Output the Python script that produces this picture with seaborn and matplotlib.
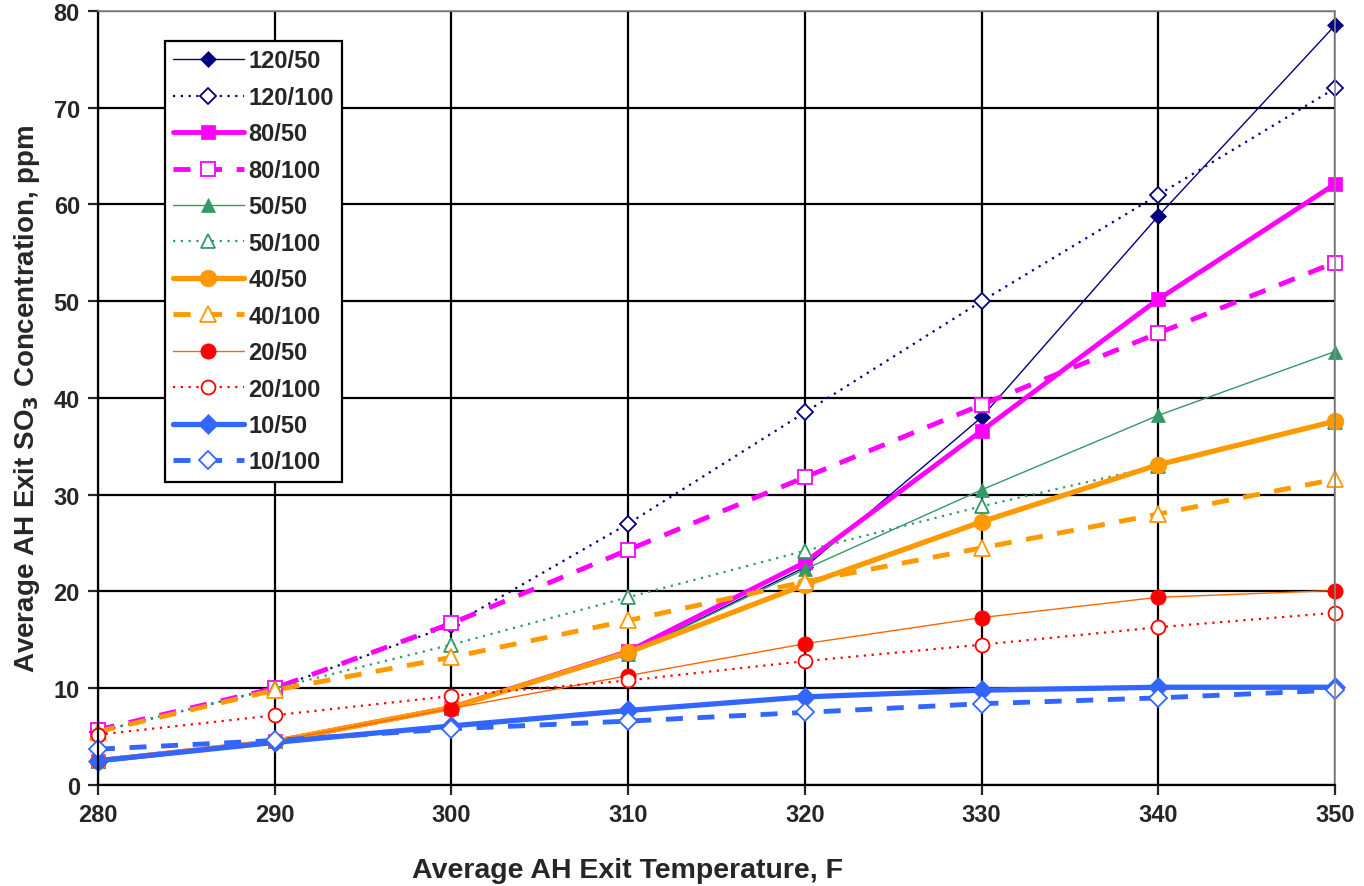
import matplotlib
matplotlib.use("Agg")
import matplotlib.pyplot as plt
import seaborn as sns
import pandas as pd

temps = [280, 290, 300, 310, 320, 330, 340, 350]

s120_50 = [2.5, 4.5, 8.0, 13.5, 22.5, 38.0, 58.8, 78.5]
s120_100 = [5.5, 10.0, 16.5, 27.0, 38.5, 50.0, 61.0, 72.0]
s80_50 = [2.5, 4.5, 8.0, 13.8, 23.0, 36.6, 50.2, 62.1]
s80_100 = [5.7, 10.0, 16.7, 24.3, 31.8, 39.3, 46.7, 54.0]
s50_50 = [2.5, 4.5, 8.0, 13.5, 22.3, 30.5, 38.2, 44.8]
s50_100 = [5.5, 10.0, 14.5, 19.4, 24.2, 28.8, 33.0, 37.5]
s40_50 = [2.5, 4.5, 8.0, 13.7, 20.7, 27.2, 33.1, 37.6]
s40_100 = [5.5, 9.8, 13.2, 17.0, 21.0, 24.5, 28.0, 31.6]
s20_50 = [2.5, 4.5, 7.9, 11.3, 14.6, 17.3, 19.4, 20.1]
s20_100 = [5.2, 7.2, 9.2, 10.8, 12.8, 14.5, 16.3, 17.8]
s10_50 = [2.5, 4.4, 6.1, 7.7, 9.1, 9.8, 10.1, 10.1]
s10_100 = [3.7, 4.6, 5.8, 6.6, 7.5, 8.4, 9.0, 9.8]

labels = ["120/50", "120/100", "80/50", "80/100", "50/50", "50/100",
          "40/50", "40/100", "20/50", "20/100", "10/50", "10/100"]
series = [s120_50, s120_100, s80_50, s80_100, s50_50, s50_100,
          s40_50, s40_100, s20_50, s20_100, s10_50, s10_100]

# style per series: line colour, marker colour, marker, filled, linestyle, width, size
styles = [
    ("#000080", "#000080", "D", True, "-", 1.0, 8),
    ("#000080", "#000080", "D", False, (0, (1, 2.5)), 1.6, 8),
    ("#FF00FF", "#FF00FF", "s", True, "-", 3.5, 10),
    ("#FF00FF", "#FF00FF", "s", False, (0, (3.5, 3)), 3.5, 10),
    ("#339966", "#339966", "^", True, "-", 1.0, 10),
    ("#339966", "#339966", "^", False, (0, (1, 2.5)), 1.6, 10),
    ("#FF9900", "#FF9900", "o", True, "-", 3.8, 12),
    ("#FF9900", "#FF9900", "^", False, (0, (3.5, 3)), 3.5, 11),
    ("#FF6600", "#FF0000", "o", True, "-", 1.0, 11),
    ("#FF0000", "#FF0000", "o", False, (0, (1, 2.5)), 1.6, 10),
    ("#3366FF", "#3366FF", "D", True, "-", 3.8, 10),
    ("#3366FF", "#3366FF", "D", False, (0, (3.5, 3)), 3.5, 9),
]

sns.set_style("white")
plt.rcParams['font.family'] = ['Liberation Sans', 'DejaVu Sans']
plt.rcParams['font.weight'] = 'bold'

fig = plt.figure(figsize=(13.64, 8.87), dpi=100)
ax = fig.add_axes([0.0718, 0.1139, 0.9069, 0.8726])

for lab, vals, st in zip(labels, series, styles):
    lc, mc, mk, filled, ls, lw, ms = st
    df = pd.DataFrame({"T": temps, "SO3": vals})
    sns.lineplot(data=df, x="T", y="SO3", ax=ax, label=lab, color=lc,
                 linestyle=ls, linewidth=lw, marker=mk, markersize=ms,
                 markerfacecolor=mc if filled else "white",
                 markeredgecolor=mc, markeredgewidth=1.3 if not filled else 0.5,
                 clip_on=False)

ax.set_xlim(280, 350)
ax.set_ylim(0, 80)
ax.set_xticks(range(280, 351, 10))
ax.set_yticks(range(0, 81, 10))
ax.grid(True, color="black", linewidth=1.6)
ax.set_axisbelow(True)
for side in ["left", "bottom"]:
    ax.spines[side].set_color("black")
    ax.spines[side].set_linewidth(1.6)
for side in ["top", "right"]:
    ax.spines[side].set_color("#888888")
    ax.spines[side].set_linewidth(1.2)
ax.tick_params(axis="both", direction="out", length=7, width=1.6,
               labelsize=17, bottom=True, left=True, pad=6)
for t in ax.get_xticklabels() + ax.get_yticklabels():
    t.set_fontweight("bold")

ax.set_xlabel("Average AH Exit Temperature, F", fontsize=20.5,
              fontweight="bold")
# x label sits left of centre in the original
ax.xaxis.set_label_coords(0.4277, -0.093)
ax.set_ylabel(r"Average AH Exit SO$_{\mathbf{3}}$ Concentration, ppm",
              fontsize=20, fontweight="bold", labelpad=8)

leg = ax.legend(loc="upper left", bbox_to_anchor=(0.054, 0.961),
                borderaxespad=0, fontsize=17, frameon=True, fancybox=False,
                handlelength=3.0, labelspacing=0.57, borderpad=0.35,
                handletextpad=0.2)
leg.get_frame().set_edgecolor("black")
leg.get_frame().set_linewidth(1.6)
leg.get_frame().set_alpha(1)
for t in leg.get_texts():
    t.set_fontweight("bold")

fig.savefig("out.png", dpi=100)
